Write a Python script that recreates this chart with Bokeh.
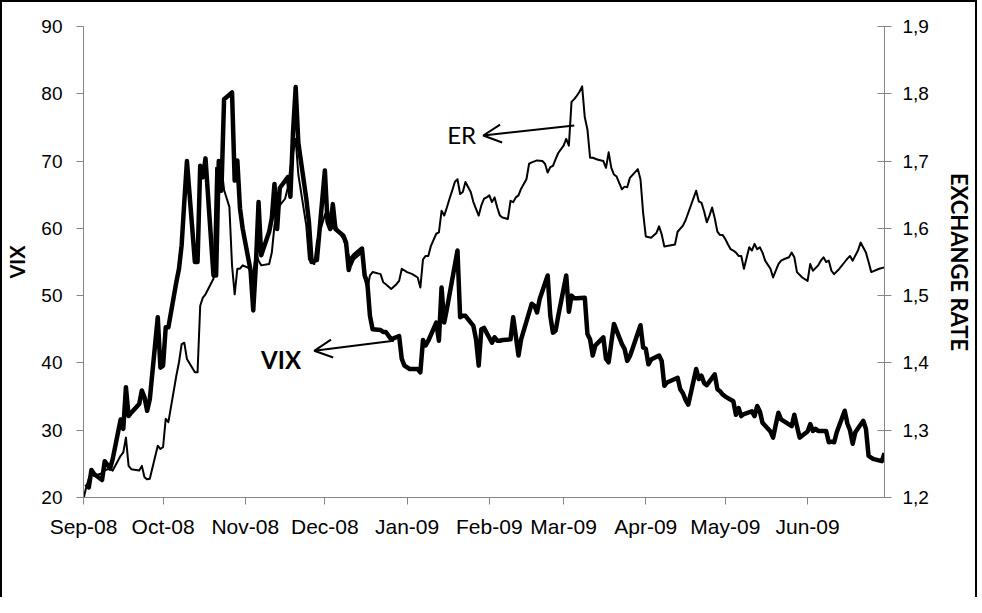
import pandas as pd
from bokeh.plotting import figure
from bokeh.models import (Range1d, LinearAxis, FixedTicker, CustomJSTickFormatter,
                          Arrow, OpenHead, Label)
from bokeh.embed import file_html
from bokeh.resources import INLINE

# ---------------- data ----------------
vix_dates = [
    "2008-09-02", "2008-09-03", "2008-09-04", "2008-09-05", "2008-09-08", "2008-09-09", "2008-09-10",
    "2008-09-11", "2008-09-12", "2008-09-15", "2008-09-16", "2008-09-17", "2008-09-18", "2008-09-19",
    "2008-09-22", "2008-09-23", "2008-09-24", "2008-09-25", "2008-09-26", "2008-09-29", "2008-09-30",
    "2008-10-01", "2008-10-02", "2008-10-03", "2008-10-06", "2008-10-07", "2008-10-08", "2008-10-09",
    "2008-10-10", "2008-10-13", "2008-10-14", "2008-10-15", "2008-10-16", "2008-10-17", "2008-10-20",
    "2008-10-21", "2008-10-22", "2008-10-23", "2008-10-24", "2008-10-27", "2008-10-28", "2008-10-29",
    "2008-10-30", "2008-10-31", "2008-11-03", "2008-11-04", "2008-11-05", "2008-11-06", "2008-11-07",
    "2008-11-10", "2008-11-11", "2008-11-12", "2008-11-13", "2008-11-14", "2008-11-17", "2008-11-18",
    "2008-11-19", "2008-11-20", "2008-11-21", "2008-11-24", "2008-11-25", "2008-11-26", "2008-11-28",
    "2008-12-01", "2008-12-02", "2008-12-03", "2008-12-04", "2008-12-05", "2008-12-08", "2008-12-09",
    "2008-12-10", "2008-12-11", "2008-12-12", "2008-12-15", "2008-12-16", "2008-12-17", "2008-12-18",
    "2008-12-19", "2008-12-22", "2008-12-23", "2008-12-24", "2008-12-26", "2008-12-29", "2008-12-30",
    "2008-12-31", "2009-01-02", "2009-01-05", "2009-01-06", "2009-01-07", "2009-01-08", "2009-01-09",
    "2009-01-12", "2009-01-13", "2009-01-14", "2009-01-15", "2009-01-16", "2009-01-20", "2009-01-21",
    "2009-01-22", "2009-01-23", "2009-01-26", "2009-01-27", "2009-01-28", "2009-01-29", "2009-01-30",
    "2009-02-02", "2009-02-03", "2009-02-04", "2009-02-05", "2009-02-06", "2009-02-09", "2009-02-10",
    "2009-02-11", "2009-02-12", "2009-02-13", "2009-02-17", "2009-02-18", "2009-02-19", "2009-02-20",
    "2009-02-23", "2009-02-24", "2009-02-25", "2009-02-26", "2009-02-27", "2009-03-02", "2009-03-03",
    "2009-03-04", "2009-03-05", "2009-03-06", "2009-03-09", "2009-03-10", "2009-03-11", "2009-03-12",
    "2009-03-13", "2009-03-16", "2009-03-17", "2009-03-18", "2009-03-19", "2009-03-20", "2009-03-23",
    "2009-03-24", "2009-03-25", "2009-03-26", "2009-03-27", "2009-03-30", "2009-03-31", "2009-04-01",
    "2009-04-02", "2009-04-03", "2009-04-06", "2009-04-07", "2009-04-08", "2009-04-09", "2009-04-13",
    "2009-04-14", "2009-04-15", "2009-04-16", "2009-04-17", "2009-04-20", "2009-04-21", "2009-04-22",
    "2009-04-23", "2009-04-24", "2009-04-27", "2009-04-28", "2009-04-29", "2009-04-30", "2009-05-01",
    "2009-05-04", "2009-05-05", "2009-05-06", "2009-05-07", "2009-05-08", "2009-05-11", "2009-05-12",
    "2009-05-13", "2009-05-14", "2009-05-15", "2009-05-18", "2009-05-19", "2009-05-20", "2009-05-21",
    "2009-05-22", "2009-05-26", "2009-05-27", "2009-05-28", "2009-05-29", "2009-06-01", "2009-06-02",
    "2009-06-03", "2009-06-04", "2009-06-05", "2009-06-08", "2009-06-09", "2009-06-10", "2009-06-11",
    "2009-06-12", "2009-06-15", "2009-06-16", "2009-06-17", "2009-06-18", "2009-06-19", "2009-06-22",
    "2009-06-23", "2009-06-24", "2009-06-25", "2009-06-26", "2009-06-29", "2009-06-30",
]
vix_values = [
    22.0, 21.5, 24.1, 23.5, 22.6, 25.4, 24.9,
    24.3, 25.7, 31.6, 30.2, 36.4, 32.1, 32.6,
    33.9, 35.9, 34.9, 32.9, 34.6, 46.8, 39.3,
    39.6, 45.3, 45.3, 52.0, 54.0, 57.5, 63.9,
    70.0, 55.0, 55.0, 69.3, 67.6, 70.4, 53.0,
    53.0, 70.0, 65.6, 79.2, 80.2, 67.1, 70.1,
    63.0, 60.0, 53.7, 47.8, 54.6, 63.9, 56.0,
    59.5, 61.5, 66.6, 59.9, 66.0, 67.6, 64.7,
    74.3, 81.0, 72.7, 64.4, 60.9, 55.0, 55.3,
    68.6, 61.0, 59.9, 63.6, 59.9, 58.9, 57.9,
    53.8, 55.5, 56.0, 57.0, 53.0, 52.0, 47.0,
    45.0, 44.9, 44.6, 44.6, 43.5, 44.0, 40.6,
    39.6, 39.1, 39.1, 38.6, 43.4, 42.6, 43.3,
    46.0, 43.3, 51.2, 46.0, 48.0, 56.7, 46.8,
    47.0, 47.0, 45.5, 43.5, 39.6, 45.0, 45.2,
    43.0, 43.8, 43.3, 43.3, 43.4, 43.5, 46.8,
    44.0, 41.1, 43.5, 48.8, 48.5, 47.5, 49.5,
    53.0, 47.0, 44.5, 44.8, 47.0, 53.0, 47.6,
    50.0, 49.6, 49.6, 49.7, 44.3, 43.5, 41.1,
    42.6, 43.8, 40.6, 40.1, 43.0, 45.8, 42.8,
    42.1, 40.3, 41.0, 42.1, 45.6, 42.3, 42.1,
    39.8, 40.5, 41.1, 40.3, 36.6, 37.1, 37.8,
    36.1, 35.5, 34.5, 33.8, 39.1, 37.6, 38.1,
    37.0, 36.7, 38.3, 36.1, 35.8, 35.3, 35.0,
    34.3, 32.3, 33.3, 32.1, 32.4, 32.8, 32.1,
    33.6, 32.8, 31.1, 29.8, 28.9, 30.8, 32.6,
    31.6, 30.6, 32.3, 30.6, 28.9, 29.8, 30.9,
    29.9, 30.2, 29.9, 29.9, 28.2, 28.3, 28.2,
    29.7, 32.9, 31.0, 30.0, 28.0, 29.7, 31.4,
    30.2, 26.2, 25.9, 25.7, 25.4, 26.6,
]

er_dates = [
    "2008-09-01", "2008-09-02", "2008-09-03", "2008-09-04", "2008-09-05", "2008-09-08", "2008-09-09",
    "2008-09-10", "2008-09-11", "2008-09-12", "2008-09-15", "2008-09-16", "2008-09-17", "2008-09-18",
    "2008-09-19", "2008-09-22", "2008-09-23", "2008-09-24", "2008-09-25", "2008-09-26", "2008-09-29",
    "2008-09-30", "2008-10-01", "2008-10-02", "2008-10-03", "2008-10-06", "2008-10-07", "2008-10-08",
    "2008-10-09", "2008-10-10", "2008-10-13", "2008-10-14", "2008-10-15", "2008-10-16", "2008-10-17",
    "2008-10-20", "2008-10-21", "2008-10-22", "2008-10-23", "2008-10-24", "2008-10-26", "2008-10-27",
    "2008-10-28", "2008-10-29", "2008-10-30", "2008-10-31", "2008-11-03", "2008-11-04", "2008-11-05",
    "2008-11-06", "2008-11-07", "2008-11-10", "2008-11-11", "2008-11-12", "2008-11-13", "2008-11-14",
    "2008-11-16", "2008-11-17", "2008-11-18", "2008-11-19", "2008-11-20", "2008-11-21", "2008-11-24",
    "2008-11-25", "2008-11-26", "2008-11-27", "2008-11-28", "2008-12-01", "2008-12-02", "2008-12-03",
    "2008-12-04", "2008-12-05", "2008-12-08", "2008-12-09", "2008-12-10", "2008-12-11", "2008-12-12",
    "2008-12-15", "2008-12-16", "2008-12-17", "2008-12-18", "2008-12-19", "2008-12-22", "2008-12-23",
    "2008-12-24", "2008-12-26", "2008-12-28", "2008-12-29", "2008-12-30", "2009-01-01", "2009-01-03",
    "2009-01-05", "2009-01-06", "2009-01-07", "2009-01-08", "2009-01-09", "2009-01-10", "2009-01-12",
    "2009-01-13", "2009-01-14", "2009-01-15", "2009-01-16", "2009-01-17", "2009-01-18", "2009-01-19",
    "2009-01-20", "2009-01-21", "2009-01-22", "2009-01-23", "2009-01-25", "2009-01-26", "2009-01-27",
    "2009-01-28", "2009-01-29", "2009-01-30", "2009-01-31", "2009-02-01", "2009-02-02", "2009-02-03",
    "2009-02-04", "2009-02-05", "2009-02-06", "2009-02-08", "2009-02-09", "2009-02-10", "2009-02-11",
    "2009-02-12", "2009-02-13", "2009-02-15", "2009-02-16", "2009-02-17", "2009-02-19", "2009-02-21",
    "2009-02-22", "2009-02-23", "2009-02-24", "2009-02-25", "2009-02-26", "2009-02-27", "2009-03-01",
    "2009-03-02", "2009-03-03", "2009-03-04", "2009-03-05", "2009-03-06", "2009-03-07", "2009-03-08",
    "2009-03-09", "2009-03-10", "2009-03-11", "2009-03-12", "2009-03-14", "2009-03-16", "2009-03-17",
    "2009-03-18", "2009-03-19", "2009-03-20", "2009-03-21", "2009-03-23", "2009-03-24", "2009-03-25",
    "2009-03-26", "2009-03-29", "2009-03-30", "2009-03-31", "2009-04-01", "2009-04-03", "2009-04-05",
    "2009-04-06", "2009-04-07", "2009-04-08", "2009-04-12", "2009-04-13", "2009-04-15", "2009-04-16",
    "2009-04-18", "2009-04-20", "2009-04-21", "2009-04-22", "2009-04-23", "2009-04-24", "2009-04-25",
    "2009-04-26", "2009-04-27", "2009-04-28", "2009-04-29", "2009-04-30", "2009-05-01", "2009-05-02",
    "2009-05-03", "2009-05-04", "2009-05-05", "2009-05-06", "2009-05-07", "2009-05-08", "2009-05-09",
    "2009-05-10", "2009-05-11", "2009-05-12", "2009-05-13", "2009-05-14", "2009-05-15", "2009-05-16",
    "2009-05-18", "2009-05-19", "2009-05-21", "2009-05-22", "2009-05-23", "2009-05-25", "2009-05-26",
    "2009-05-27", "2009-05-28", "2009-05-30", "2009-06-01", "2009-06-02", "2009-06-03", "2009-06-05",
    "2009-06-06", "2009-06-07", "2009-06-08", "2009-06-09", "2009-06-10", "2009-06-11", "2009-06-13",
    "2009-06-15", "2009-06-16", "2009-06-17", "2009-06-18", "2009-06-20", "2009-06-21", "2009-06-23",
    "2009-06-24", "2009-06-25", "2009-06-28", "2009-06-30",
]
er_values = [
    1.198, 1.215, 1.228, 1.236, 1.232, 1.236, 1.240,
    1.242, 1.243, 1.240, 1.262, 1.267, 1.289, 1.247,
    1.242, 1.240, 1.247, 1.230, 1.227, 1.228, 1.277,
    1.272, 1.275, 1.317, 1.312, 1.381, 1.401, 1.428,
    1.430, 1.406, 1.386, 1.386, 1.485, 1.497, 1.502,
    1.525, 1.690, 1.682, 1.693, 1.657, 1.632, 1.545,
    1.502, 1.540, 1.540, 1.545, 1.540, 1.532, 1.564,
    1.552, 1.545, 1.547, 1.564, 1.604, 1.624, 1.634,
    1.644, 1.660, 1.690, 1.712, 1.733, 1.680, 1.604,
    1.554, 1.549, 1.547, 1.580, 1.620, 1.629, 1.612,
    1.600, 1.604, 1.584, 1.572, 1.560, 1.545, 1.554,
    1.564, 1.525, 1.510, 1.530, 1.535, 1.532, 1.520,
    1.517, 1.510, 1.517, 1.522, 1.540, 1.535, 1.532,
    1.527, 1.512, 1.554, 1.559, 1.559, 1.574, 1.592,
    1.594, 1.626, 1.619, 1.631, 1.644, 1.656, 1.669,
    1.673, 1.651, 1.654, 1.669, 1.654, 1.639, 1.629,
    1.619, 1.634, 1.644, 1.646, 1.649, 1.639, 1.646,
    1.631, 1.619, 1.616, 1.614, 1.641, 1.639, 1.646,
    1.649, 1.659, 1.673, 1.696, 1.698, 1.701, 1.700,
    1.696, 1.683, 1.691, 1.693, 1.703, 1.712, 1.723,
    1.733, 1.723, 1.788, 1.792, 1.797, 1.803, 1.811,
    1.765, 1.747, 1.705, 1.705, 1.702, 1.700, 1.690,
    1.713, 1.690, 1.680, 1.677, 1.658, 1.662, 1.661,
    1.675, 1.688, 1.673, 1.623, 1.588, 1.586, 1.593,
    1.603, 1.591, 1.573, 1.576, 1.595, 1.604, 1.612,
    1.634, 1.656, 1.640, 1.638, 1.625, 1.609, 1.619,
    1.631, 1.615, 1.595, 1.590, 1.590, 1.584, 1.576,
    1.569, 1.567, 1.564, 1.559, 1.559, 1.540, 1.556,
    1.572, 1.567, 1.577, 1.569, 1.572, 1.564, 1.552,
    1.540, 1.527, 1.547, 1.552, 1.554, 1.557, 1.564,
    1.557, 1.535, 1.527, 1.522, 1.547, 1.537, 1.545,
    1.552, 1.557, 1.550, 1.552, 1.537, 1.532, 1.540,
    1.550, 1.555, 1.559, 1.552, 1.567, 1.579, 1.564,
    1.550, 1.535, 1.540, 1.542,
]

month_ticks = ["2008-09-01", "2008-10-01", "2008-11-01", "2008-12-01", "2009-01-01",
               "2009-02-01", "2009-03-01", "2009-04-01", "2009-05-01", "2009-06-01"]
x_start, x_end = "2008-09-01", "2009-06-30"
vix_ticks = [20, 30, 40, 50, 60, 70, 80, 90]
er_ticks = [1.2, 1.3, 1.4, 1.5, 1.6, 1.7, 1.8, 1.9]

# annotation anchors (date, value)
vix_note = {"text": "VIX", "x": "2008-11-22", "y": 40.5}
vix_arrow = {"x_tail": "2008-12-27", "y_tail": 43.3, "x_head": "2008-11-27", "y_head": 41.8}
er_note = {"text": "ER", "x": "2009-01-27", "y": 1.739}
er_arrow = {"x_tail": "2009-03-05", "y_tail": 1.753, "x_head": "2009-01-29 17:00", "y_head": 1.738}


def ms(s):
    return pd.Timestamp(s).value / 1e6


AXIS_GREY = "#868686"
TICK_FONT = "Liberation Sans"

p = figure(
    x_axis_type="datetime",
    x_range=Range1d(ms(x_start), ms(x_end)),
    y_range=Range1d(20, 90),
    frame_width=801, frame_height=471,
    min_border_left=74, min_border_right=88, min_border_top=24, min_border_bottom=100,
    output_backend="svg", toolbar_location=None,
    background_fill_color="white", border_fill_color="white",
    outline_line_color=None,
)
p.extra_y_ranges = {"er": Range1d(1.2, 1.9)}
p.xgrid.visible = False
p.ygrid.visible = False
p.styles = {"border-left": "2px solid black", "border-top": "2px solid black",
            "border-right": "2px solid black"}

# x axis
xa = p.xaxis[0]
xa.ticker = FixedTicker(ticks=[ms(d) for d in month_ticks])
xa.formatter = CustomJSTickFormatter(code="""
    const m = ["Jan","Feb","Mar","Apr","May","Jun","Jul","Aug","Sep","Oct","Nov","Dec"];
    const d = new Date(tick);
    return m[d.getUTCMonth()] + "-" + String(d.getUTCFullYear()).slice(2);
""")
xa.minor_tick_line_color = None
xa.major_tick_out = 7
xa.major_tick_in = 0
xa.axis_line_color = AXIS_GREY
xa.major_tick_line_color = AXIS_GREY
xa.major_label_text_font = TICK_FONT
xa.major_label_text_font_size = "21px"
xa.major_label_text_color = "black"
xa.major_label_standoff = 10

# left axis
ya = p.yaxis[0]
ya.ticker = FixedTicker(ticks=vix_ticks)
ya.minor_tick_line_color = None
ya.major_tick_out = 7
ya.major_tick_in = 0
ya.axis_line_color = AXIS_GREY
ya.major_tick_line_color = AXIS_GREY
ya.major_label_text_font = TICK_FONT
ya.major_label_text_font_size = "19px"
ya.major_label_text_color = "black"
ya.major_label_standoff = 14
ya.axis_label = "VIX"
ya.axis_label_text_font = "Lato"
ya.axis_label_text_font_style = "bold"
ya.axis_label_text_font_size = "20px"
ya.axis_label_text_color = "black"
ya.axis_label_standoff = 9

# right axis
ra = LinearAxis(y_range_name="er", ticker=FixedTicker(ticks=er_ticks))
ra.formatter = CustomJSTickFormatter(code="return tick.toFixed(1).replace('.', ',');")
ra.minor_tick_line_color = None
ra.major_tick_out = 7
ra.major_tick_in = 7
ra.axis_line_color = AXIS_GREY
ra.major_tick_line_color = AXIS_GREY
ra.major_label_text_font = TICK_FONT
ra.major_label_text_font_size = "19px"
ra.major_label_text_color = "black"
ra.major_label_standoff = 11
ra.axis_label = "EXCHANGE RATE"
ra.axis_label_text_font = "Lato"
ra.axis_label_text_font_style = "bold"
ra.axis_label_text_font_size = "22px"
ra.axis_label_text_color = "black"
ra.axis_label_standoff = 14
p.add_layout(ra, "right")

# series
p.line([ms(d) for d in er_dates], er_values, y_range_name="er",
       line_color="black", line_width=2, line_join="round")
p.line([ms(d) for d in vix_dates], vix_values,
       line_color="black", line_width=4.5, line_join="round")

# annotations
p.add_layout(Label(x=ms(vix_note["x"]), y=vix_note["y"], text=vix_note["text"],
                   text_align="right", text_baseline="middle", text_font="Lato",
                   text_font_style="bold", text_font_size="24px", text_color="black"))
p.add_layout(Arrow(x_start=ms(vix_arrow["x_tail"]), y_start=vix_arrow["y_tail"],
                   x_end=ms(vix_arrow["x_head"]), y_end=vix_arrow["y_head"],
                   line_color="black", line_width=2,
                   end=OpenHead(size=18, line_color="black", line_width=2)))
p.add_layout(Label(x=ms(er_note["x"]), y=er_note["y"], y_range_name="er", text=er_note["text"],
                   text_align="right", text_baseline="middle", text_font="Lato",
                   text_font_size="24px", text_color="black"))
p.add_layout(Arrow(x_start=ms(er_arrow["x_tail"]), y_start=er_arrow["y_tail"],
                   x_end=ms(er_arrow["x_head"]), y_end=er_arrow["y_head"], y_range_name="er",
                   line_color="black", line_width=2,
                   end=OpenHead(size=18, line_color="black", line_width=2)))

open("out.html", "w").write(file_html(p, INLINE))
